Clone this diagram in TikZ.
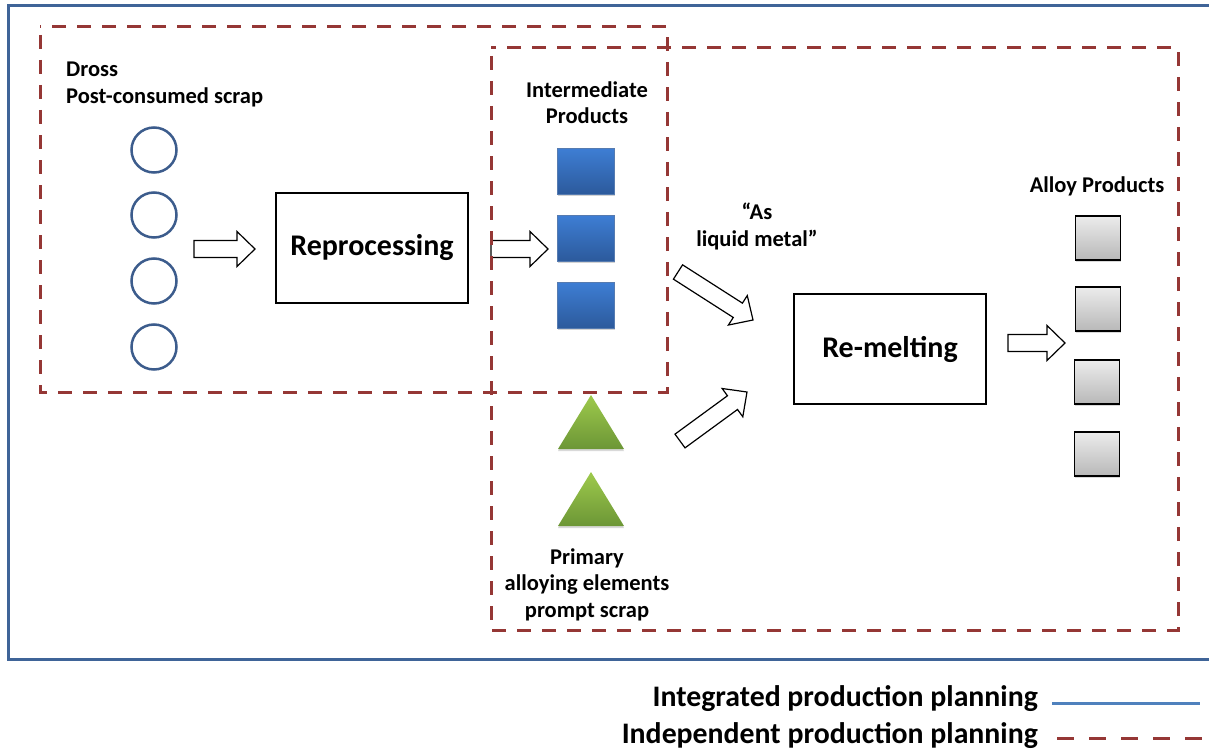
\documentclass[tikz,border=0pt]{standalone}
\usepackage{fontspec}
\setmainfont{Carlito}
\usetikzlibrary{calc,shadows}

\definecolor{frameblue}{RGB}{63,100,152}
\definecolor{legendblue}{RGB}{79,129,189}
\definecolor{planred}{RGB}{149,55,53}
\definecolor{circblue}{RGB}{60,92,140}
\definecolor{sqtop}{RGB}{62,126,212}
\definecolor{sqbot}{RGB}{44,90,156}
\definecolor{triTop}{RGB}{158,202,76}
\definecolor{triBot}{RGB}{108,150,54}
\definecolor{grayTop}{RGB}{236,236,236}
\definecolor{grayBot}{RGB}{184,184,184}

\tikzset{
  frameline/.style={draw=frameblue, line width=3pt},
  planbox/.style={draw=planred, line width=3pt, dash pattern=on 14pt off 11pt, dash phase=-8pt},
  planlegend/.style={draw=planred, line width=3pt, dash pattern=on 17pt off 15pt},
  label/.style={font=\bfseries\fontsize{22.5}{26.5}\selectfont, align=center, inner sep=0pt, anchor=base},
  proctext/.style={font=\bfseries\fontsize{30}{34}\selectfont},
  procbox/.style={draw=black, line width=1.3pt, fill=white, proctext},
  scrapcirc/.style={circle, draw=circblue, line width=2.5pt, minimum size=45pt, inner sep=0pt},
  interbox/.style={rectangle, inner sep=0pt, minimum width=57pt, minimum height=46pt,
    top color=sqtop, bottom color=sqbot, draw=sqbot!80, line width=0.4pt,
    drop shadow={opacity=0.35, shadow xshift=0pt, shadow yshift=-2pt}},
  alloybox/.style={rectangle, inner sep=0pt, minimum width=45pt, minimum height=44pt,
    top color=grayTop, bottom color=grayBot, draw=black, line width=1.3pt,
    drop shadow={opacity=0.3, shadow xshift=0pt, shadow yshift=-2pt}},
  tripath/.style={top color=triTop, bottom color=triBot,
    drop shadow={opacity=0.3, shadow xshift=0pt, shadow yshift=-2pt}},
  arrowbody/.style={draw=black, fill=white, line width=1.2pt, line join=miter},
  legendtext/.style={font=\bfseries\fontsize{29.8}{34}\selectfont, inner sep=0pt, anchor=base east},
}

% hollow block arrow from #1 to #2
\newcommand\blockarr[2]{%
  \coordinate (ba-h) at ($(#2)!18pt!(#1)$);
  \draw[arrowbody] ($(#1)!8.5pt!90:(#2)$) -- ($(ba-h)!8.5pt!-90:(#1)$)
    -- ($(ba-h)!17.5pt!-90:(#1)$) -- (#2) -- ($(ba-h)!17.5pt!90:(#1)$)
    -- ($(ba-h)!8.5pt!90:(#1)$) -- ($(#1)!8.5pt!-90:(#2)$) -- cycle;}

\begin{document}
\begin{tikzpicture}[x=1pt, y=-1pt]
\useasboundingbox (0,0) rectangle (1209,749);

% integrated planning frame
\begin{scope}
  \clip (0,0) rectangle (1209,749);
  \draw[frameline] (8,6) rectangle (1240,659);
\end{scope}

% raw material inputs (label anchored on its last line)
\node[label, anchor=base west, align=left] (dross) at (66,103) {Dross\\Post-consumed scrap};
\node[scrapcirc] (c1) at (154,150) {};
\node[scrapcirc] (c2) at (154,215) {};
\node[scrapcirc] (c3) at (154,281) {};
\node[scrapcirc] (c4) at (154,347) {};

% process boxes
\node[procbox, minimum width=192pt, minimum height=110pt] (rep) at (372,248) {Reprocessing};
\node[procbox, minimum width=192pt, minimum height=110pt] (rem) at (890,349) {Re-melting};

% intermediate products
\node[label] (inter) at (587,124) {Intermediate\\Products};
\node[interbox] (i1) at (586,171) {};
\node[interbox] (i2) at (586,238) {};
\node[interbox] (i3) at (586,305) {};

% primary alloying elements
\path[tripath] (591,395) -- (624,449) -- (558,449) -- cycle;
\path[tripath] (591,472) -- (624,526) -- (558,526) -- cycle;
\node[label] (prim) at (587,617) {Primary\\alloying elements\\prompt scrap};

% liquid metal note
\node[label] (liq) at (757,246) {``As\\liquid metal''};

% alloy products
\node[label] (alloy) at (1097,192) {Alloy Products};
\node[alloybox] (a1) at (1098,238) {};
\node[alloybox] (a2) at (1098,309) {};
\node[alloybox] (a3) at (1097,382) {};
\node[alloybox] (a4) at (1097,454) {};

% flow arrows
\coordinate (f1a) at (194,249); \coordinate (f1b) at (255,249);
\coordinate (f2a) at (491,249); \coordinate (f2b) at (548,249);
\coordinate (f3a) at (678,272); \coordinate (f3b) at (753,320);
\coordinate (f4a) at (680,441); \coordinate (f4b) at (747,392);
\coordinate (f5a) at (1008,343); \coordinate (f5b) at (1065,343);
\blockarr{f1a}{f1b}
\blockarr{f2a}{f2b}
\blockarr{f3a}{f3b}
\blockarr{f4a}{f4b}
\blockarr{f5a}{f5b}

% independent planning regions
\draw[planbox] (40,27) rectangle (667,392);
\draw[planbox] (491,48) rectangle (1178,630);

% legend
\node[legendtext] (leg1) at (1038,706) {Integrated production planning};
\node[legendtext] (leg2) at (1038,743) {Independent production planning};
\coordinate (l1a) at (1052,703); \coordinate (l1b) at (1200,703);
\coordinate (l2a) at (1057,738); \coordinate (l2b) at (1203,738);
\draw[draw=legendblue, line width=3pt] (l1a) -- (l1b);
\draw[planlegend] (l2a) -- (l2b);
\end{tikzpicture}
\end{document}
